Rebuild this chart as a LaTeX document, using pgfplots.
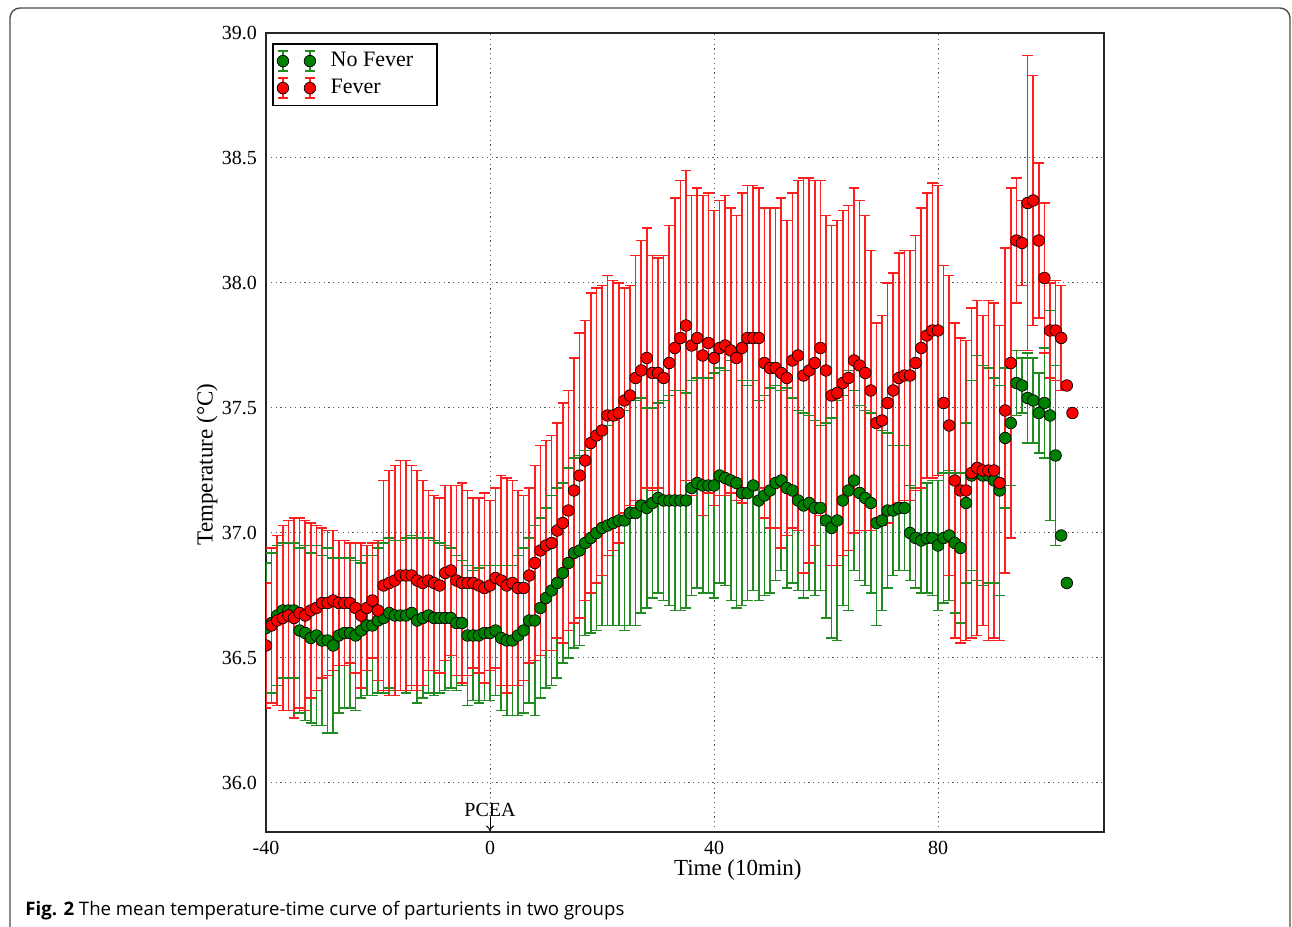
\documentclass[border=0pt]{standalone}
\usepackage{fontspec}
\setmainfont{Liberation Serif}
\newfontfamily\capfont{Open Sans}
\usepackage{pgfplots}
\usepackage{pgfplotstable}
\usetikzlibrary{arrows.meta}
\pgfplotsset{compat=1.18}
\definecolor{fred}{RGB}{255,0,0}
\definecolor{fbar}{RGB}{255,30,30}
\definecolor{ngreen}{RGB}{0,128,0}
\definecolor{nbar}{RGB}{34,139,34}

\pgfplotstableread{
x y e
-40 36.55 0.25
-39 36.63 0.31
-38 36.65 0.34
-37 36.66 0.37
-36 36.67 0.38
-35 36.66 0.40
-34 36.68 0.38
-33 36.67 0.38
-32 36.69 0.35
-31 36.70 0.33
-30 36.72 0.30
-29 36.72 0.29
-28 36.73 0.28
-27 36.72 0.25
-26 36.72 0.25
-25 36.72 0.24
-24 36.70 0.26
-23 36.67 0.29
-22 36.70 0.25
-21 36.73 0.23
-20 36.69 0.28
-19 36.79 0.42
-18 36.80 0.45
-17 36.81 0.46
-16 36.83 0.46
-15 36.83 0.46
-14 36.83 0.44
-13 36.81 0.44
-12 36.80 0.41
-11 36.81 0.36
-10 36.80 0.35
-9 36.79 0.35
-8 36.84 0.35
-7 36.85 0.34
-6 36.81 0.38
-5 36.80 0.40
-4 36.80 0.37
-3 36.80 0.34
-2 36.79 0.35
-1 36.78 0.38
0 36.79 0.34
1 36.82 0.36
2 36.81 0.42
3 36.79 0.43
4 36.80 0.41
5 36.78 0.39
6 36.78 0.37
7 36.83 0.35
8 36.88 0.39
9 36.93 0.42
10 36.95 0.42
11 36.96 0.43
12 37.01 0.43
13 37.04 0.48
14 37.09 0.48
15 37.17 0.53
16 37.23 0.57
17 37.29 0.56
18 37.36 0.60
19 37.39 0.59
20 37.41 0.58
21 37.47 0.56
22 37.47 0.54
23 37.48 0.52
24 37.53 0.45
25 37.55 0.44
26 37.62 0.49
27 37.65 0.52
28 37.70 0.52
29 37.64 0.47
30 37.64 0.46
31 37.62 0.49
32 37.68 0.55
33 37.74 0.60
34 37.78 0.63
35 37.83 0.62
36 37.75 0.60
37 37.78 0.60
38 37.71 0.64
39 37.76 0.60
40 37.70 0.59
41 37.74 0.59
42 37.75 0.60
43 37.73 0.57
44 37.70 0.57
45 37.74 0.62
46 37.78 0.61
47 37.78 0.61
48 37.78 0.60
49 37.68 0.62
50 37.66 0.64
51 37.66 0.64
52 37.64 0.70
53 37.62 0.63
54 37.69 0.67
55 37.71 0.70
56 37.63 0.79
57 37.65 0.77
58 37.68 0.73
59 37.74 0.67
60 37.65 0.62
61 37.55 0.68
62 37.56 0.69
63 37.60 0.69
64 37.62 0.69
65 37.69 0.69
66 37.67 0.66
67 37.64 0.63
68 37.57 0.56
69 37.44 0.40
70 37.45 0.42
71 37.52 0.48
72 37.57 0.47
73 37.62 0.50
74 37.63 0.50
75 37.63 0.50
76 37.68 0.51
77 37.74 0.56
78 37.79 0.57
79 37.81 0.59
80 37.81 0.58
81 37.52 0.55
82 37.43 0.60
83 37.21 0.63
84 37.17 0.61
85 37.17 0.60
86 37.24 0.66
87 37.26 0.67
88 37.25 0.62
89 37.25 0.68
90 37.25 0.67
91 37.20 0.63
92 37.49 0.65
93 37.68 0.70
94 38.17 0.25
95 38.16 0.17
96 38.32 0.59
97 38.33 0.50
98 38.17 0.31
99 38.02 0.30
100 37.81 0.19
101 37.81 0.20
102 37.78 0.21
103 37.59 0
104 37.48 0
}\fever

\pgfplotstableread{
x y e
-40 36.62 0.26
-39 36.64 0.28
-38 36.67 0.28
-37 36.69 0.27
-36 36.69 0.27
-35 36.69 0.27
-34 36.61 0.33
-33 36.60 0.35
-32 36.58 0.34
-31 36.59 0.36
-30 36.57 0.34
-29 36.57 0.37
-28 36.55 0.35
-27 36.59 0.31
-26 36.60 0.30
-25 36.60 0.30
-24 36.59 0.30
-23 36.61 0.27
-22 36.63 0.28
-21 36.63 0.28
-20 36.65 0.29
-19 36.66 0.30
-18 36.68 0.30
-17 36.67 0.30
-16 36.67 0.30
-15 36.67 0.31
-14 36.68 0.31
-13 36.65 0.33
-12 36.66 0.32
-11 36.67 0.31
-10 36.66 0.31
-9 36.66 0.30
-8 36.66 0.29
-7 36.66 0.28
-6 36.64 0.27
-5 36.64 0.25
-4 36.59 0.28
-3 36.59 0.26
-2 36.59 0.27
-1 36.60 0.27
0 36.60 0.27
1 36.61 0.26
2 36.58 0.29
3 36.57 0.30
4 36.57 0.30
5 36.59 0.32
6 36.61 0.33
7 36.65 0.33
8 36.65 0.38
9 36.70 0.36
10 36.74 0.36
11 36.77 0.38
12 36.80 0.38
13 36.84 0.36
14 36.88 0.38
15 36.92 0.38
16 36.93 0.38
17 36.96 0.37
18 36.98 0.38
19 37.00 0.39
20 37.02 0.39
21 37.03 0.40
22 37.04 0.41
23 37.05 0.42
24 37.05 0.44
25 37.08 0.45
26 37.08 0.45
27 37.11 0.43
28 37.10 0.40
29 37.12 0.38
30 37.14 0.38
31 37.13 0.40
32 37.13 0.42
33 37.13 0.44
34 37.13 0.44
35 37.13 0.43
36 37.18 0.43
37 37.20 0.42
38 37.19 0.43
39 37.19 0.43
40 37.19 0.45
41 37.23 0.43
42 37.22 0.43
43 37.21 0.48
44 37.20 0.50
45 37.16 0.45
46 37.16 0.43
47 37.19 0.42
48 37.13 0.40
49 37.15 0.40
50 37.17 0.41
51 37.20 0.39
52 37.21 0.36
53 37.18 0.40
54 37.17 0.37
55 37.13 0.36
56 37.11 0.37
57 37.12 0.35
58 37.10 0.35
59 37.10 0.33
60 37.05 0.39
61 37.02 0.44
62 37.05 0.48
63 37.13 0.42
64 37.17 0.48
65 37.21 0.36
66 37.16 0.35
67 37.14 0.35
68 37.12 0.36
69 37.04 0.41
70 37.05 0.36
71 37.09 0.31
72 37.09 0.26
73 37.10 0.25
74 37.10 0.25
75 37.00 0.19
76 36.98 0.20
77 36.97 0.21
78 36.98 0.22
79 36.98 0.23
80 36.95 0.26
81 36.98 0.26
82 36.99 0.26
83 36.96 0.28
84 36.94 0.30
85 37.12 0.32
86 37.23 0.38
87 37.26 0.45
88 37.23 0.44
89 37.23 0.43
90 37.21 0.41
91 37.17 0.42
92 37.38 0.28
93 37.44 0.25
94 37.60 0.13
95 37.59 0.11
96 37.54 0.18
97 37.53 0.17
98 37.48 0.16
99 37.52 0.22
100 37.47 0.42
101 37.31 0.36
102 36.99 0
103 36.80 0
}\nofever

\tikzset{
  gbar/.style={color=nbar, line width=0.85pt},
  rbar/.style={color=fbar, line width=0.85pt},
}

\begin{document}
\begin{tikzpicture}
\path[use as bounding box] (0,0) rectangle (646pt,463.5pt);
\draw[black!70, line width=0.7pt, rounded corners=5pt] (5pt,-8pt) rectangle (645pt,459.5pt);
\node[anchor=west, inner sep=0pt, font=\capfont\fontsize{9.3}{11}\selectfont] at (12.5pt,8pt)
  {\textbf{Fig. 2} The mean temperature-time curve of parturients in two groups};
\begin{axis}[
  at={(133pt,47.5pt)}, anchor=south west,
  scale only axis, width=419pt, height=399.5pt,
  xmin=-40, xmax=109.64, ymin=35.804, ymax=39.0,
  xtick={-40,0,40,80}, xticklabels={-40,0,40,80},
  ytick={36.0,36.5,37.0,37.5,38.0,38.5,39.0},
  yticklabels={36.0,36.5,37.0,37.5,38.0,38.5,39.0},
  major tick length=0pt,
  tick label style={font=\fontsize{10}{12}\selectfont},
  xticklabel style={yshift=-1pt},
  yticklabel style={xshift=-1pt},
  axis line style={line width=0.8pt, black!85},
  grid=major,
  major grid style={black!65, line width=0.5pt, dash pattern=on 0.6pt off 1.8pt},
  xlabel={Time (10min)},
  ylabel={Temperature (°C)},
  label style={font=\fontsize{11.5}{13}\selectfont},
  xlabel style={at={(axis description cs:0.563,0)}, anchor=center, yshift=-19pt},
  ylabel style={at={(axis description cs:-0.0704,0.46)}, anchor=center},
  clip marker paths=true,
  legend cell align=left,
  legend style={at={(0,1)}, anchor=north west, xshift=3pt, yshift=-5pt,
    draw=black, line width=0.8pt, fill=white,
    font=\fontsize{11}{13}\selectfont,
    inner xsep=2pt, inner ysep=2.5pt, row sep=1.2pt,
    nodes={inner sep=1.8pt},
    /tikz/every odd column/.append style={column sep=5.5pt}},
]
% error bars (stems)
\addplot[forget plot, only marks, mark=none,
  error bars/.cd, y dir=both, y explicit,
  error bar style={gbar}, error mark=none]
  table[x=x, y=y, y error=e]{\nofever};
\addplot[forget plot, only marks, mark=none,
  error bars/.cd, y dir=both, y explicit,
  error bar style={rbar}, error mark=none]
  table[x=x, y=y, y error=e]{\fever};
% caps
\addplot[forget plot, only marks, mark=-, mark size=2.6pt, mark options={gbar}]
  table[x=x, y expr=\thisrow{y}+\thisrow{e}]{\nofever};
\addplot[forget plot, only marks, mark=-, mark size=2.6pt, mark options={gbar}]
  table[x=x, y expr=\thisrow{y}-\thisrow{e}]{\nofever};
\addplot[forget plot, only marks, mark=-, mark size=2.6pt, mark options={rbar}]
  table[x=x, y expr=\thisrow{y}+\thisrow{e}]{\fever};
\addplot[forget plot, only marks, mark=-, mark size=2.6pt, mark options={rbar}]
  table[x=x, y expr=\thisrow{y}-\thisrow{e}]{\fever};
% markers
\addplot[only marks, mark=*, mark size=2.9pt,
  mark options={fill=ngreen, draw=black, line width=0.35pt},
  legend image code/.code={%
    \foreach \xx in {0pt,13.5pt}{%
      \draw[gbar] (\xx,-5pt)--(\xx,5pt) (\xx-2.6pt,-5pt)--(\xx+2.6pt,-5pt) (\xx-2.6pt,5pt)--(\xx+2.6pt,5pt);
      \draw[black, line width=0.35pt, fill=ngreen] (\xx,0pt) circle (2.9pt);
    }%
  }]
  table[x=x, y=y]{\nofever};
\addlegendentry{No Fever\hspace*{8pt}\mbox{}}
\addplot[only marks, mark=*, mark size=2.9pt,
  mark options={fill=fred, draw=black, line width=0.35pt},
  legend image code/.code={%
    \foreach \xx in {0pt,13.5pt}{%
      \draw[rbar] (\xx,-5pt)--(\xx,5pt) (\xx-2.6pt,-5pt)--(\xx+2.6pt,-5pt) (\xx-2.6pt,5pt)--(\xx+2.6pt,5pt);
      \draw[black, line width=0.35pt, fill=fred] (\xx,0pt) circle (2.9pt);
    }%
  }]
  table[x=x, y=y]{\fever};
\addlegendentry{Fever}
% PCEA annotation
\node[font=\fontsize{10}{12}\selectfont, anchor=center] at (axis cs:0,35.892) {PCEA};
\draw[-{To[length=3pt,width=4pt]}, line width=0.5pt] (axis cs:0,35.864) -- (axis cs:0,35.806);
\end{axis}
\end{tikzpicture}
\end{document}
